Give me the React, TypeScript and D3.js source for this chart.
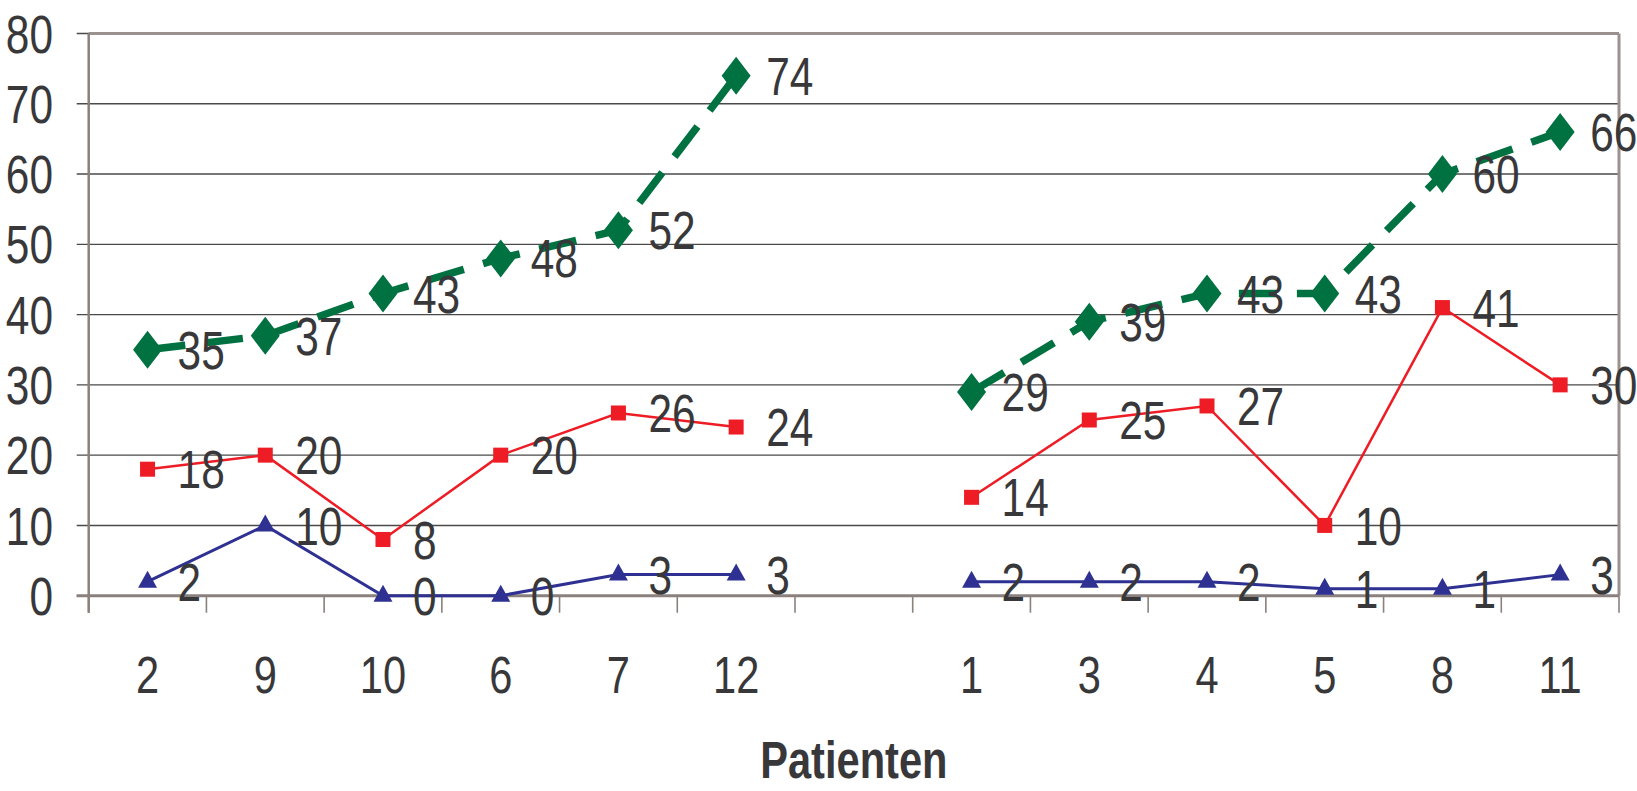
import React from "react";
import * as d3 from "d3";

const categories = ["2", "9", "10", "6", "7", "12", "", "1", "3", "4", "5", "8", "11"];
const seriesGreen: (number | null)[] = [35, 37, 43, 48, 52, 74, null, 29, 39, 43, 43, 60, 66];
const seriesRed: (number | null)[] = [18, 20, 8, 20, 26, 24, null, 14, 25, 27, 10, 41, 30];
const seriesBlue: (number | null)[] = [2, 10, 0, 0, 3, 3, null, 2, 2, 2, 1, 1, 3];
const yTicks = [0, 10, 20, 30, 40, 50, 60, 70, 80];
const xTitle = "Patienten";

const W = 1637;
const H = 791;
const left = 88.7;
const right = 1619;
const top = 33.5;
const bottom = 595.7;
const FONT = "'Liberation Sans', Arial, sans-serif";
const TXT = "#38383a";
const SX = 0.8;

function Txt(props: {
  x: number;
  y: number;
  size: number;
  anchor?: string;
  bold?: boolean;
  dy?: string;
  children: React.ReactNode;
}) {
  const { x, y, size, anchor = "start", bold = false, dy, children } = props;
  return (
    <text
      transform={`translate(${x},${y}) scale(${SX},1)`}
      textAnchor={anchor}
      dy={dy}
      fontFamily={FONT}
      fontSize={size}
      fontWeight={bold ? "bold" : "normal"}
      fill={TXT}
    >
      {children}
    </text>
  );
}

export default function App() {
  const keys = categories.map((c, i) => i + ":" + c);
  const x = d3.scaleBand<string>().domain(keys).range([left, right]).padding(0);
  const cx = (i: number) => (x(keys[i]) as number) + x.bandwidth() / 2;
  const y = d3.scaleLinear().domain([0, 80]).range([bottom, top]);

  const line = d3
    .line<number | null>()
    .defined((d) => d !== null)
    .x((_, i) => cx(i))
    .y((d) => y(d as number));

  const series = [
    { data: seriesGreen, color: "#007140", width: 7.5, dash: "38 20", marker: "diamond" },
    { data: seriesRed, color: "#ee1c25", width: 2.5, dash: undefined, marker: "square" },
    { data: seriesBlue, color: "#2e3192", width: 3, dash: undefined, marker: "triangle" },
  ];

  const marker = (type: string, px: number, py: number, color: string, key: string) => {
    if (type === "diamond") {
      const w = 14.5, h = 19;
      return <path key={key} d={`M${px},${py - h}L${px + w},${py}L${px},${py + h}L${px - w},${py}Z`} fill={color} />;
    }
    if (type === "square") {
      return <rect key={key} x={px - 7.5} y={py - 7.5} width={15} height={15} fill={color} />;
    }
    return <path key={key} d={`M${px},${py - 11}L${px + 9.5},${py + 6}L${px - 9.5},${py + 6}Z`} fill={color} />;
  };

  return (
    <svg width={W} height={H} style={{ position: "absolute", left: 0, top: 0, background: "#fff" }}>
      {yTicks.map((t) => (
        <line key={"g" + t} x1={left - 12} x2={right} y1={y(t)} y2={y(t)} stroke="#4a4a4a" strokeWidth={1.4} />
      ))}
      <line x1={left} x2={right} y1={top} y2={top} stroke="#9b918e" strokeWidth={3} />
      <line x1={right} x2={right} y1={top} y2={bottom} stroke="#9b918e" strokeWidth={3} />
      <line x1={left} x2={left} y1={top} y2={bottom + 17} stroke="#8a807d" strokeWidth={2.5} />
      <line x1={left - 12} x2={right} y1={bottom} y2={bottom} stroke="#8a807d" strokeWidth={3} />
      {d3.range(categories.length + 1).map((i) => {
        const xx = left + i * x.bandwidth();
        return <line key={"xt" + i} x1={xx} x2={xx} y1={bottom} y2={bottom + 17} stroke="#8a807d" strokeWidth={1.6} />;
      })}
      {yTicks.map((t) => (
        <Txt key={"yl" + t} x={53} y={y(t)} dy="0.36em" anchor="end" size={53}>
          {t}
        </Txt>
      ))}
      {categories.map((c, i) => (
        <Txt key={"xl" + i} x={cx(i)} y={693} anchor="middle" size={52}>
          {c}
        </Txt>
      ))}
      <Txt x={(left + right) / 2} y={778} anchor="middle" size={52} bold>
        {xTitle}
      </Txt>
      {series.map((s, si) => (
        <path key={"l" + si} d={line(s.data) || ""} fill="none" stroke={s.color} strokeWidth={s.width} strokeDasharray={s.dash} />
      ))}
      {series.map((s, si) =>
        s.data.map((d, i) => (d === null ? null : marker(s.marker, cx(i), y(d), s.color, `m${si}-${i}`)))
      )}
      {series.map((s, si) =>
        s.data.map((d, i) =>
          d === null ? null : (
            <Txt key={`t${si}-${i}`} x={cx(i) + 30} y={y(d)} dy="0.36em" size={53}>
              {d}
            </Txt>
          )
        )
      )}
    </svg>
  );
}
